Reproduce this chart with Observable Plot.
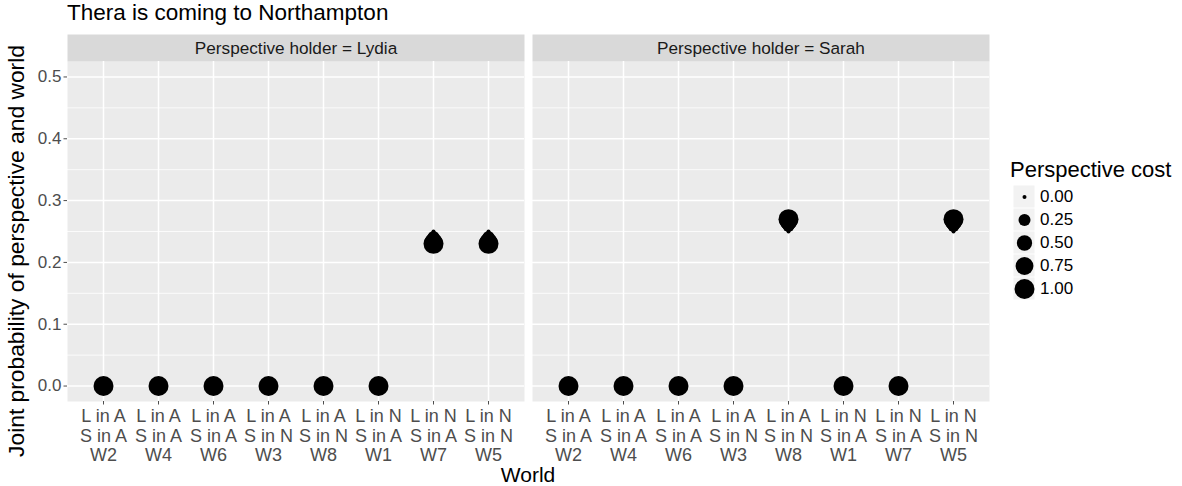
<!DOCTYPE html>
<html>
<head>
<meta charset="utf-8">
<script src="https://cdn.jsdelivr.net/npm/d3@7"></script>
<script src="https://cdn.jsdelivr.net/npm/@observablehq/plot@0.6"></script>
<style>
  html, body { margin: 0; padding: 0; background: #fff; }
  body { width: 1182px; height: 486px; overflow: hidden; position: relative;
         font-family: "Liberation Sans", Arial, Helvetica, sans-serif; }
  #title { height: 25px; line-height: 25px; font-size: 22.5px; padding-left: 67px; color: #000; white-space: nowrap; }
  #xtitle { width: 1056px; height: 21px; line-height: 19px; font-size: 21px; text-align: center; color: #000; }
  #ytitle { position: absolute; left: 16px; top: 251px; width: 0; height: 0; }
  #ytitle span { position: absolute; left: 0; top: 0; transform: translate(-50%, -50%) rotate(-90deg);
                 white-space: nowrap; font-size: 22.8px; color: #000; }
  #legend { position: absolute; left: 1010px; top: 155px; }
  #legend .ltitle { font-size: 22px; line-height: 29px; height: 29px; white-space: nowrap; color: #000; }
  svg { display: block; }
</style>
</head>
<body>
<div id="title">Thera is coming to Northampton</div>
<div id="chart"></div>
<div id="xtitle">World</div>
<div id="ytitle"><span>Joint probability of perspective and world</span></div>
<div id="legend"><div class="ltitle">Perspective cost</div><div id="lkeys"></div></div>
<script>
// ---- data ----
const holders = ["Lydia", "Sarah"];
const worlds = ["W2", "W4", "W6", "W3", "W8", "W1", "W7", "W5"];
const lydiaLocation = ["A", "A", "A", "A", "A", "N", "N", "N"];
const sarahLocation = ["A", "A", "A", "N", "N", "A", "A", "N"];
const costs = [0, 0.25, 0.5, 0.75, 1];
// joint probability per world (columns follow `worlds`), one row per cost level
const lydiaProb = [
  [0, 0, 0, 0, 0, 0, 0.250, 0.250],
  [0, 0, 0, 0, 0, 0, 0.241, 0.241],
  [0, 0, 0, 0, 0, 0, 0.236, 0.236],
  [0, 0, 0, 0, 0, 0, 0.233, 0.233],
  [0, 0, 0, 0, 0, 0, 0.230, 0.230]
];
const sarahProb = [
  [0, 0, 0, 0, 0.250, 0, 0, 0.250],
  [0, 0, 0, 0, 0.259, 0, 0, 0.259],
  [0, 0, 0, 0, 0.264, 0, 0, 0.264],
  [0, 0, 0, 0, 0.267, 0, 0, 0.267],
  [0, 0, 0, 0, 0.270, 0, 0, 0.270]
];
const yMajor = [0, 0.1, 0.2, 0.3, 0.4, 0.5];
const yMinor = [0.05, 0.15, 0.25, 0.35, 0.45];

// ---- table ----
const rows = [];
[["Lydia", lydiaProb], ["Sarah", sarahProb]].forEach(([holder, table]) => {
  table.forEach((vals, ci) => {
    vals.forEach((p, wi) => rows.push({holder, world: worlds[wi], cost: costs[ci], prob: p}));
  });
});

const rScale = {type: "pow", exponent: 0.5, domain: [0, 1], range: [2, 10]};
const tickLabel = (w) => {
  const i = worlds.indexOf(w);
  return `L in ${lydiaLocation[i]}\nS in ${sarahLocation[i]}\n${w}`;
};

const chart = Plot.plot({
  width: 1182,
  height: 440,
  marginLeft: 67,
  marginRight: 193,
  marginTop: 36,
  marginBottom: 64,
  style: {fontFamily: '"Liberation Sans", Arial, Helvetica, sans-serif', fontSize: "17px", background: "white"},
  fx: {domain: holders, paddingInner: 16 / 930, paddingOuter: 0, axis: null, label: null},
  x: {type: "point", domain: worlds, padding: 0.6, label: null},
  y: {domain: [-0.025, 0.525], label: null},
  r: rScale,
  marks: [
    Plot.frame({fill: "#EBEBEB"}),
    Plot.frame({fill: "#D9D9D9", insetTop: -27, insetBottom: 340}),
    Plot.text(holders, {fx: d => d, text: d => `Perspective holder = ${d}`, frameAnchor: "top", dy: -13.5,
                        lineAnchor: "middle", fontSize: 17.2, fill: "#1A1A1A"}),
    Plot.gridY(yMinor, {stroke: "white", strokeOpacity: 1, strokeWidth: 0.8}),
    Plot.gridY(yMajor, {stroke: "white", strokeOpacity: 1, strokeWidth: 1.5}),
    Plot.gridX({stroke: "white", strokeOpacity: 1, strokeWidth: 1.5}),
    Plot.axisY({ticks: yMajor, tickFormat: d3.format(".1f"), tickSize: 3.5, tickPadding: 2.5,
                fontSize: 17, color: "#4D4D4D", label: null}),
    Plot.axisX({tickFormat: tickLabel, tickSize: 3.5, tickPadding: 3, fontSize: 18, lineHeight: 1.09,
                color: "#4D4D4D", label: null}),
    Plot.dot(rows, {fx: "holder", x: "world", y: "prob", r: "cost", fill: "black", stroke: "none"})
  ]
});
document.getElementById("chart").appendChild(chart);

const legend = Plot.plot({
  width: 90,
  height: 118,
  margin: 0,
  style: {fontFamily: '"Liberation Sans", Arial, Helvetica, sans-serif', fontSize: "17px", background: "white"},
  x: {type: "band", domain: ["key"], range: [2.7, 25.5], padding: 0, axis: null},
  y: {type: "band", domain: costs, range: [0, 117.5], padding: 0, axis: null},
  r: rScale,
  marks: [
    Plot.cell(costs, {x: () => "key", y: d => d, fill: "#F2F2F2", inset: 0.5}),
    Plot.dot(costs, {x: () => "key", y: d => d, r: d => d, fill: "black", stroke: "none"}),
    Plot.text(costs, {x: () => "key", y: d => d, text: d => d3.format(".2f")(d), textAnchor: "start",
                      dx: 15.5, fontSize: 17, fill: "black"})
  ]
});
document.getElementById("lkeys").appendChild(legend);
</script>
</body>
</html>
